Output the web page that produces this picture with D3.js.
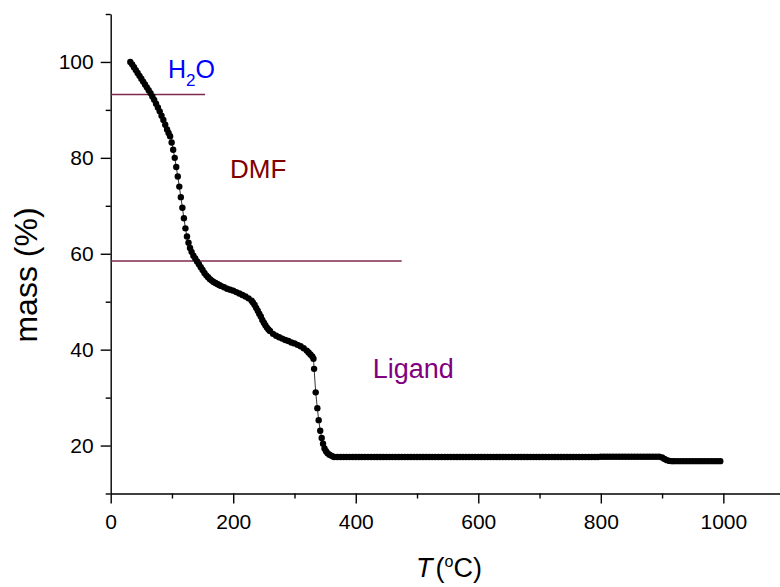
<!DOCTYPE html>
<meta charset="utf-8">
<style>

  body {
    margin: 0;
    background: #fff;
  }

  text {
    font-family: "Liberation Sans", Arial, sans-serif;
    fill: #000;
  }

  .axis path,
  .axis line {
    stroke: #000;
    stroke-width: 1.4px;
  }

  .axis text {
    font-size: 21px;
  }

</style>
<body>
<script src="https://d3js.org/d3.v7.min.js"></script>
<script>

var width = 780,
    height = 587;

// TGA run: temperature (°C) and remaining mass (%)
var temperature = [
  32,35,38,41,44,47,50,53,56,59,62,65,68,71,74,77,80,83,86,89,92,94.5,
  97,99.5,102,104.5,107,109.5,112,114.5,117,119.5,122,124.5,127,129.5,
  132,135,138,141,144,147,150,153,156,159,162,165,168,171,174,177,180,
  185,190,195,200,205,210,215,220,225,230,
  232.5,235,237.5,240,242.5,245,247.5,250,252.5,255,257.5,260,
  265,270,275,280,285,290,295,300,305,310,315,320,323,326,329,331,
  332,334.6,337.3,339.5,342,344.4,346.6,349,351.5,354,357,360,363,
  365,370,375,380,385,390,395,400,405,410,415,420,425,430,435,440,445,450,455,460,
  465,470,475,480,485,490,495,500,505,510,515,520,525,530,535,540,545,550,555,560,
  565,570,575,580,585,590,595,600,605,610,615,620,625,630,635,640,645,650,655,660,
  665,670,675,680,685,690,695,700,705,710,715,720,725,730,735,740,745,750,755,760,
  765,770,775,780,785,790,795,800,805,810,815,820,825,830,835,840,845,850,855,860,
  865,870,875,880,885,890,895,
  900,904,908,912,916,
  920,925,930,935,940,945,950,955,960,965,970,975,980,985,990,995
];

var mass = [
  100,99.5,98.9,98.3,97.7,97.1,96.5,95.9,95.3,94.7,94.1,93.5,92.8,92.1,91.3,90.5,89.7,88.8,87.9,86.9,85.9,85.2,
  84.5,83.2,81.7,80.0,78.1,76.1,74.0,71.8,69.6,67.4,65.3,63.6,62.3,61.2,
  60.4,59.6,59.0,58.4,57.8,57.2,56.6,56.0,55.5,55.1,54.7,54.4,54.1,53.9,53.7,53.5,53.3,
  53.0,52.7,52.5,52.3,52.0,51.7,51.4,51.1,50.7,50.2,
  49.8,49.3,48.7,48.1,47.5,46.9,46.2,45.6,45.1,44.6,44.2,43.9,
  43.3,42.9,42.6,42.3,42.0,41.8,41.5,41.3,41.0,40.7,40.3,39.8,39.4,39.0,38.6,38.1,
  36.0,31.1,27.8,25.3,23.1,21.6,20.4,19.4,18.8,18.4,18.1,17.9,17.7,
  17.6,17.6,17.6,17.6,17.6,17.6,17.6,17.6,17.6,17.6,17.6,17.6,17.6,17.6,17.6,17.6,17.6,17.6,17.6,17.6,
  17.6,17.6,17.6,17.6,17.6,17.6,17.6,17.6,17.6,17.6,17.6,17.6,17.6,17.6,17.6,17.6,17.6,17.6,17.6,17.6,
  17.6,17.6,17.6,17.6,17.6,17.6,17.6,17.6,17.6,17.6,17.6,17.6,17.6,17.6,17.6,17.6,17.6,17.6,17.6,17.6,
  17.6,17.6,17.6,17.6,17.6,17.6,17.6,17.6,17.6,17.6,17.6,17.6,17.6,17.6,17.6,17.6,17.6,17.6,17.6,17.6,
  17.6,17.6,17.6,17.6,17.6,17.6,17.6,17.65,17.65,17.65,17.65,17.65,17.65,17.65,17.65,17.65,17.65,17.65,17.65,17.65,
  17.65,17.65,17.65,17.65,17.65,17.65,17.65,
  17.5,17.2,16.95,16.8,16.75,
  16.75,16.75,16.75,16.75,16.75,16.75,16.75,16.75,16.75,16.75,16.75,16.75,16.75,16.75,16.75,16.75
];

var xMajor = [0, 200, 400, 600, 800, 1000],
    xMinor = [100, 300, 500, 700, 900, 1100],
    yMajor = [20, 40, 60, 80, 100],
    yMinor = [10, 30, 50, 70, 90, 110];

// mass levels that close each loss step, and how far the marker runs
var stepLevels = [93.2, 58.5],
    stepReach = [154, 475];

var stepNames = ["H", "DMF", "Ligand"];

var svg = d3.select("body").append("svg")
  .attr("width", width)
  .attr("height", height);

var x = d3.scaleLinear()
  .domain([0, 1100])
  .range([110.7, 784.6]);

var y = d3.scaleLinear()
  .domain([10, 110])
  .range([493.5, 14]);

// axes
svg.append("g")
  .attr("class", "axis")
  .attr("transform", "translate(0," + y(10) + ")")
  .call(d3.axisBottom(x).tickValues(xMajor).tickFormat(d3.format("d"))
    .tickSize(10).tickSizeOuter(0).tickPadding(11));

svg.append("g")
  .attr("class", "axis")
  .attr("transform", "translate(0," + y(10) + ")")
  .call(d3.axisBottom(x).tickValues(xMinor).tickSize(5).tickFormat(""))
  .call(function(g){ g.select(".domain").remove(); });

svg.append("g")
  .attr("class", "axis")
  .attr("transform", "translate(" + x(0) + ",0)")
  .call(d3.axisLeft(y).tickValues(yMajor).tickSize(10).tickSizeOuter(0).tickPadding(7));

svg.append("g")
  .attr("class", "axis")
  .attr("transform", "translate(" + x(0) + ",0)")
  .call(d3.axisLeft(y).tickValues(yMinor).tickSize(5).tickFormat(""))
  .call(function(g){ g.select(".domain").remove(); });

// step markers
svg.selectAll(".step")
  .data(stepLevels)
  .enter()
  .append("line")
    .attr("class", "step")
    .attr("x1", x(0))
    .attr("x2", function(d, i){ return x(stepReach[i]); })
    .attr("y1", function(d){ return y(d); })
    .attr("y2", function(d){ return y(d); })
    .style("stroke", "#7d2a4c")
    .style("stroke-width", 1.4);

// curve
var points = temperature.map(function(t, i){ return [t, mass[i]]; });

svg.append("path")
  .datum(points)
  .attr("d", d3.line().x(function(d){ return x(d[0]); }).y(function(d){ return y(d[1]); }))
  .style("fill", "none")
  .style("stroke", "#000")
  .style("stroke-width", 0.8);

svg.selectAll(".pt")
  .data(points)
  .enter()
  .append("circle")
    .attr("class", "pt")
    .attr("cx", function(d){ return x(d[0]); })
    .attr("cy", function(d){ return y(d[1]); })
    .attr("r", 3.2)
    .style("fill", "#000");

// step labels
var water = svg.append("text")
  .attr("x", x(93.5))
  .attr("y", y(96.6))
  .style("font-size", "25px")
  .style("fill", "#0000ff");
water.append("tspan").text(stepNames[0]);
water.append("tspan").attr("dy", 8).style("font-size", "17px").text("2");
water.append("tspan").attr("dy", -8).text("O");

svg.append("text")
  .attr("x", x(194.7))
  .attr("y", y(75.7))
  .style("font-size", "26px")
  .style("fill", "#800000")
  .text(stepNames[1]);

svg.append("text")
  .attr("x", x(427.7))
  .attr("y", y(34))
  .style("font-size", "27px")
  .style("fill", "#800080")
  .text(stepNames[2]);

// axis titles
svg.append("text")
  .attr("transform", "translate(37,275) rotate(-90)")
  .style("text-anchor", "middle")
  .style("font-size", "32px")
  .text("mass (%)");

var xt = svg.append("text")
  .attr("x", 449)
  .attr("y", 577)
  .style("text-anchor", "middle")
  .style("font-size", "27px");
xt.append("tspan").style("font-style", "italic").text("T");
xt.append("tspan").attr("dx", 3).text("(");
xt.append("tspan").attr("dy", -10).style("font-size", "16px").text("o");
xt.append("tspan").attr("dy", 10).text("C)");

</script>
